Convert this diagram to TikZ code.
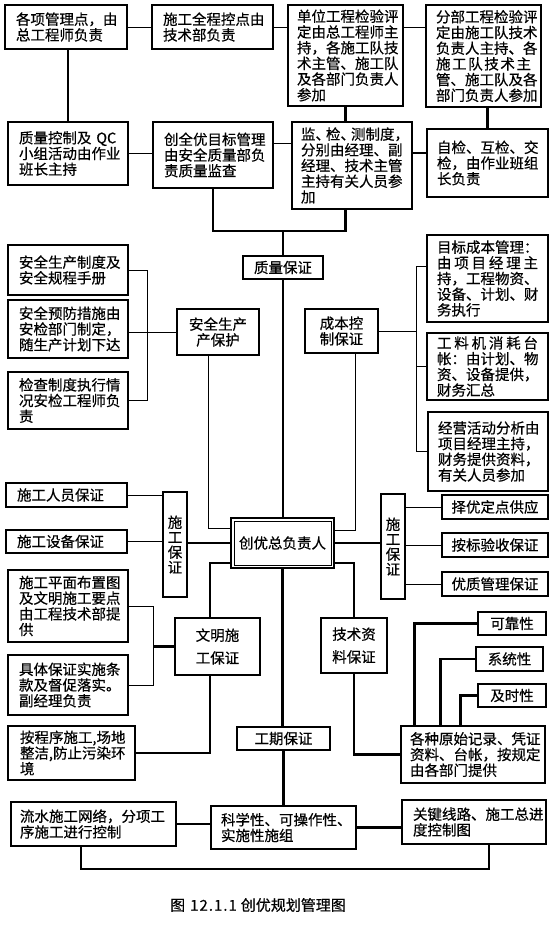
\documentclass[tikz,border=0pt]{standalone}
\usepackage{fontspec}
\setmainfont{Noto Sans CJK SC}[FakeBold=0.5]
\usetikzlibrary{calc}
\tikzset{
  bx/.style={draw, rectangle, line width=1.2pt, inner ysep=0pt, font=\fontsize{14.5}{15.7}\selectfont},
  thinln/.style={line width=0.9pt},
  midln/.style={line width=1.8pt},
  thickln/.style={line width=2.6pt},
}
\newcommand\mybox[8][]{%
  \pgfmathsetmacro\bw{#5-#3}\pgfmathsetmacro\bh{#6-#4}\pgfmathsetmacro\tw{#5-#3-2*#7}%
  \pgfmathsetmacro\cx{(#3+#5)/2}\pgfmathsetmacro\cy{(#4+#6)/2}%
  \node[bx, align=left, minimum width=\bw pt, minimum height=\bh pt, text width=\tw pt, inner xsep=#7 pt, #1] (#2) at (\cx,\cy) {#8};}
\newcommand\spreadln[1]{\leavevmode\hbox to \hsize{#1}}
\begin{document}
\begin{tikzpicture}[x=1pt,y=-1pt]
\fill[white] (0,0) rectangle (551,925);
\useasboundingbox (0,0) rectangle (551,925);
% top row
\mybox{A1}{5}{5}{127}{49}{11}{各项管理点，由\\总工程师负责}
\mybox{A2}{152}{5}{273}{49}{11}{施工全程控点由\\技术部负责}
\mybox{A3}{288}{5}{403}{106}{9}{单位工程检验评\\定由总工程师主\\持，各施工队技\\术主管、施工队\\及各部门负责人\\参加}
\mybox{A4}{426}{5}{541}{107}{10}{分部工程检验评\\定由施工队技术\\负责人主持、各\\\spreadln{施\hfil 工\hfil 队\hfil 技\hfil 术\hfil 主}\\管、施工队及各\\部门负责人参加}
% second row
\mybox{B1}{8}{122}{128}{185}{11}{质量控制及 QC\\小组活动由作业\\班长主持}
\mybox{B2}{153}{122}{273}{188}{11}{创全优目标管理\\由安全质量部负\\责质量监查}
\mybox{B3}{292}{122}{412}{209}{9}{监、\kern-4pt 检、\kern-4pt 测制度，\\分别由经理、副\\经理、技术主管\\主持有关人员参\\加}
\mybox{B4}{427}{129}{548}{197}{10}{自检、互检、交\\检，由作业班组\\长负责}
\mybox[align=center]{ZL}{243}{256}{323}{279}{4}{质量保证}
% safety
\mybox{S1}{8}{245}{128}{295}{11}{安全生产制度及\\安全规程手册}
\mybox{S2}{8}{300}{128}{358}{11}{安全预防措施由\\安检部门制定，\\随生产计划下达}
\mybox{S3}{8}{372}{128}{429}{11}{检查制度执行情\\况安检工程师负\\责}
\mybox[align=center]{SP}{177}{309}{259}{355}{4}{安全生产\\产保护}
% cost
\mybox[align=center]{CB}{305}{309}{378}{353}{4}{成本控\\制保证}
\mybox{C1}{427}{235}{548}{322}{10}{目标成本管理：\\\spreadln{由\hfil 项\hfil 目\hfil 经\hfil 理\hfil 主}\\持，工程物资、\\设备、计划、财\\务执行}
\mybox{C2}{427}{333}{548}{400}{10}{\spreadln{工\hfil 料\hfil 机\hfil 消\hfil 耗\hfil 台}\\帐：由计划、物\\资、设备提供，\\财务汇总}
\mybox{C3}{428}{412}{548}{491}{10}{经营活动分析由\\项目经理主持，\\财务提供资料，\\有关人员参加}
% centre
\mybox[align=center, line width=2pt]{CY}{231}{518}{334}{568}{4}{创优总负责人}
\draw[line width=0.8pt] ([shift={(4,4)}]CY.north west) rectangle ([shift={(-4,-4)}]CY.south east);
% left construction guarantee
\mybox[align=center, font=\fontsize{14.5}{15}\selectfont]{LG}{163}{492}{187}{597}{1}{施\\工\\保\\证}
\mybox{L1}{6}{483}{127}{507}{11}{施工人员保证}
\mybox{L2}{6}{530}{127}{553}{11}{施工设备保证}
% right construction guarantee
\mybox[align=center, font=\fontsize{14.5}{15}\selectfont]{RG}{381}{494}{405}{599}{1}{施\\工\\保\\证}
\mybox[align=center]{R1}{442}{495}{548}{519}{4}{择优定点供应}
\mybox[align=center]{R2}{442}{533}{548}{557}{4}{按标验收保证}
\mybox[align=center]{R3}{442}{572}{548}{596}{4}{优质管理保证}
% civilised construction
\mybox[align=center]{WM}{175}{618}{260}{675}{4}{文明施\\[7pt]工保证}
\mybox{W1}{8}{570}{128}{642}{11}{施工平面布置图\\及文明施工要点\\由工程技术部提\\供}
\mybox{W2}{8}{655}{128}{715}{11}{具体保证实施条\\款及督促落实。\\副经理负责}
\mybox{W3}{8}{726}{135}{780}{12}{按程序施工,场地\\整洁,防止污染环\\境}
% technical data
\mybox[align=center]{JS}{321}{618}{387}{673}{4}{技术资\\[7pt]料保证}
\mybox[align=center]{T1}{478}{612}{546}{635}{4}{可靠性}
\mybox[align=center]{T2}{476}{647}{543}{671}{4}{系统性}
\mybox[align=center]{T3}{478}{684}{546}{707}{4}{及时性}
\mybox{GZ}{401}{726}{545}{783}{9}{各种原始记录、凭证\\资料、台帐，按规定\\由各部门提供}
% schedule
\mybox[align=center]{GQ}{237}{727}{330}{750}{4}{工期保证}
\mybox{D1}{11}{802}{176}{846}{9}{流水施工网络，分项工\\序施工进行控制}
\mybox{D2}{211}{806}{356}{849}{10}{科学性、可操作性、\\实施性施组}
\mybox{D3}{402}{800}{546}{844}{11}{关键线路、施工总进\\度控制图}
\node[font=\fontsize{15}{16}\selectfont] (cap) at (258,905) {图\hspace{5pt}1\kern1pt 2\kern1pt .\kern1pt 1\kern1pt .\kern1pt 1\hspace{4pt}创优规划管理图};
% ---------- connectors ----------
\draw[thinln] (A1.east) -- (A2.west);
\draw[thinln] (A2.east) -- (A2.east -| A3.west);
\draw[thinln] (A3.east |- A2.east) -- (A4.west |- A2.east);
\draw[thickln] (B1.north |- A1.south) -- (B1.north);
\draw[thinln] (B1.east) -- (B1.east -| B2.west);
\draw[thinln] ([yshift=12pt]B2.east) -- ([yshift=12pt]B2.east -| B3.west);
\draw[midln] ([yshift=10pt]B4.west) -- ([yshift=10pt]B4.west -| B3.east);
\draw[thickln] (A3.south) -- (A3.south |- B3.north);
\draw[thickln] (B4.north |- A4.south) -- (B4.north);
\coordinate (qj) at (285,231);
\draw[thickln] (B2.south) |- (A3.south |- qj) -- (A3.south |- B3.south);
\draw[thickln] (ZL.north) -- (ZL.north |- qj);
\draw[thickln] (ZL.south) -- (ZL.south |- CY.north);
% safety
\coordinate (sbx) at (147,0);
\draw[thinln] (S1.east) -- (S1.east -| sbx) -- (S3.east -| sbx) -- (S3.east);
\draw[thinln] (SP.west -| S2.east) -- (SP.west);
\draw[thinln] ([xshift=-10pt]SP.south) |- ([yshift=15pt]CY.west);
% cost
\coordinate (cbx) at (416,0);
\draw[thinln] ([yshift=12pt]C1.west) -| (cbx |- C3.west) -- (C3.west);
\draw[thinln] (C2.west) -- (C2.west -| cbx);
\draw[thinln] (CB.east) -- (CB.east -| cbx);
\draw[thinln] ([xshift=14pt]CB.south) |- ([yshift=13pt]CY.east);
% construction guarantees
\draw[thinln] (L1.east) -- (L1.east -| LG.west);
\draw[thinln] (L2.east) -- (L2.east -| LG.west);
\draw[midln] (LG.east |- CY.west) -- (CY.west);
\draw[midln] (CY.east) -- (CY.east -| RG.west);
\draw[thinln] (R1.west -| RG.east) -- (R1.west);
\draw[thinln] (R2.west -| RG.east) -- (R2.west);
\draw[thinln] (R3.west -| RG.east) -- (R3.west);
% civilised construction
\draw[thickln] ([yshift=-20pt]CY.west) -| ([xshift=-7.5pt]WM.north);
\coordinate (wbx) at (153,0);
\draw[thinln] (W1.east) -| (wbx |- W2.east) -- (W2.east);
\draw[thickln] (WM.west) -- (WM.west -| wbx);
\draw[thickln] ([xshift=-7.5pt]WM.south) |- (W3.east);
% technical data
\draw[thickln] ([yshift=-20pt]CY.east) -| (JS.north);
\draw[thickln] (JS.south) |- (GZ.west);
\draw[thickln] (T1.west) -| ([xshift=14pt]GZ.north west);
\draw[thickln] (T2.west) -| ([xshift=40pt]GZ.north west);
\draw[thickln] (T3.west) -| ([xshift=60pt]GZ.north west);
% schedule
\draw[thickln] (CY.south) -- (CY.south |- GQ.north);
\draw[thickln] (GQ.south) -- (GQ.south |- D2.north);
\draw[thickln] (D1.east) -- (D1.east -| D2.west);
\draw[thickln] (D2.east) -- (D2.east -| D3.west);
\draw[midln] ([xshift=-12.5pt]D1.south) -- ++(0,22) -| ([xshift=15pt]D3.south);
\end{tikzpicture}
\end{document}
